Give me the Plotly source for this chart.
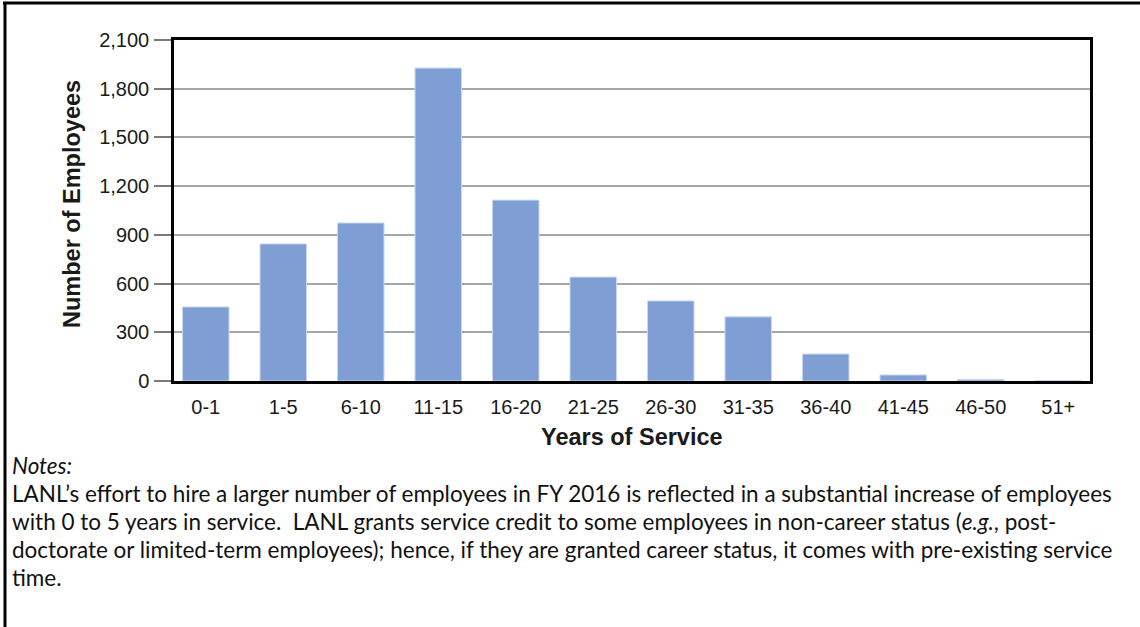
import plotly.graph_objects as go

categories = ["0-1", "1-5", "6-10", "11-15", "16-20", "21-25", "26-30",
              "31-35", "36-40", "41-45", "46-50", "51+"]
employees = [456, 844, 973, 1927, 1114, 640, 493, 395, 166, 37, 10, 1]
y_ticks = [0, 300, 600, 900, 1200, 1500, 1800, 2100]
y_tick_labels = ["0", "300", "600", "900", "1,200", "1,500", "1,800", "2,100"]

x_title = "Years of Service"
y_title = "Number of Employees"
notes_head = "Notes:"
notes_lines = [
    "LANL’s effort to hire a larger number of employees in FY 2016 is reflected in a substantial increase of employees",
    "with 0 to 5 years in service.  LANL grants service credit to some employees in non-career status (<i>e.g.</i>, post-",
    "doctorate or limited-term employees); hence, if they are granted career status, it comes with pre-existing service",
    "time.",
]

W, H = 1140, 627
L, R, T, B = 174, 1090, 40, 381


def px(x):
    return (x - L) / (R - L)


def py(y):
    return (B - y) / (B - T)


fig = go.Figure()
fig.add_trace(go.Bar(
    x=categories, y=employees,
    marker=dict(color="#7f9fd4", line=dict(color="#c9d6ee", width=1)),
    width=0.6,
))

fig.update_layout(
    width=W, height=H,
    margin=dict(l=L, r=W - R, t=T, b=H - B),
    paper_bgcolor="white", plot_bgcolor="white",
    showlegend=False,
    font=dict(family="Liberation Sans, Arial, sans-serif", color="#1a1a1a"),
)
fig.update_xaxes(
    range=[-0.41, 11.41],
    showgrid=False,
    showline=True, linecolor="black", linewidth=2.5, mirror=True,
    ticks="", ticklabelstandoff=6,
    tickfont=dict(size=20, family="Liberation Sans, Arial, sans-serif", color="#1a1a1a"),
)
fig.update_yaxes(
    range=[0, 2100],
    tickvals=y_ticks, ticktext=y_tick_labels,
    showgrid=True, gridcolor="#a6a6a6", gridwidth=2,
    zeroline=False,
    showline=True, linecolor="black", linewidth=2.5, mirror=True,
    ticks="outside", ticklen=17, tickwidth=2, tickcolor="#7a7a7a",
    ticklabelstandoff=1,
    tickfont=dict(size=20, family="Liberation Sans, Arial, sans-serif", color="#1a1a1a"),
)

# outer frame (top and left)
fig.add_shape(type="line", xref="paper", yref="paper",
              x0=px(3), x1=px(1140), y0=py(3), y1=py(3),
              line=dict(color="black", width=3))
fig.add_shape(type="line", xref="paper", yref="paper",
              x0=px(5), x1=px(5), y0=py(2), y1=py(627),
              line=dict(color="black", width=3))

# axis titles
fig.add_annotation(text=f"<b>{y_title}</b>", xref="paper", yref="paper",
                   x=px(72), y=py(204), textangle=-90, showarrow=False,
                   xanchor="center", yanchor="middle",
                   font=dict(size=23.5, family="Liberation Sans, Arial, sans-serif", color="#1a1a1a"))
fig.add_annotation(text=f"<b>{x_title}</b>", xref="paper", yref="paper",
                   x=px(632), y=py(437), showarrow=False,
                   xanchor="center", yanchor="middle",
                   font=dict(size=23.5, family="Liberation Sans, Arial, sans-serif", color="#1a1a1a"))

# notes
fig.add_annotation(text=f"<i>{notes_head}</i>", xref="paper", yref="paper",
                   x=px(10), y=py(465), showarrow=False,
                   xanchor="left", yanchor="middle",
                   font=dict(size=22.5, family="Lato, sans-serif", color="#111111"))
for i, line in enumerate(notes_lines):
    fig.add_annotation(text=line, xref="paper", yref="paper",
                       x=px(10), y=py(493 + 28 * i), showarrow=False,
                       xanchor="left", yanchor="middle",
                       font=dict(size=22.5, family="Lato, sans-serif", color="#111111"))

fig.write_html("out.html", config={"displayModeBar": False},
               post_script="document.body.style.margin='0';")
